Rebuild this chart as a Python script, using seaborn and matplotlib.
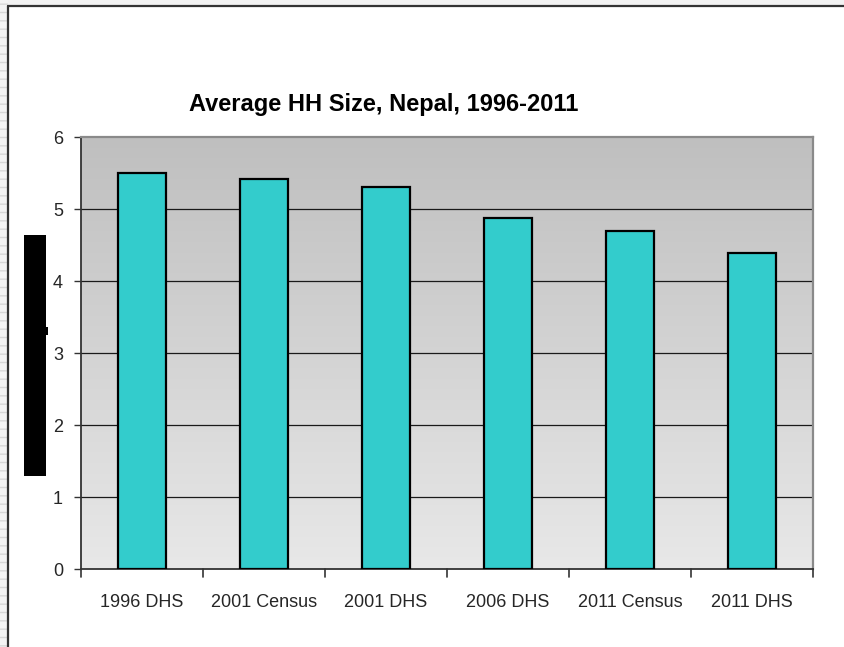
import matplotlib
matplotlib.use("Agg")
import matplotlib.pyplot as plt
from matplotlib.patches import Rectangle
from matplotlib.lines import Line2D
import numpy as np
import pandas as pd
import seaborn as sns

surveys = ["1996 DHS", "2001 Census", "2001 DHS", "2006 DHS", "2011 Census", "2011 DHS"]
hh_size = [5.5, 5.42, 5.3, 4.88, 4.69, 4.39]
y_ticks = [0, 1, 2, 3, 4, 5, 6]
title = "Average HH Size, Nepal, 1996-2011"

df = pd.DataFrame({"survey": surveys, "size": hh_size})

sns.set_theme(style="white")
plt.rcParams["font.family"] = ["Liberation Sans Narrow", "Liberation Sans", "DejaVu Sans"]

fig = plt.figure(figsize=(8.44, 6.47), dpi=100)
W, H = 844, 647

def fx(px):
    return px / W

def fy(py):
    return 1 - py / H

# page margin strips
fig.patches.append(Rectangle((0, fy(6)), 1, 6 / H, transform=fig.transFigure,
                             facecolor="#f2f2f2", edgecolor="none", zorder=0))
fig.patches.append(Rectangle((0, 0), fx(8), 1, transform=fig.transFigure,
                             facecolor="#f4f4f4", edgecolor="#d8d8d8", hatch="--",
                             linewidth=0, zorder=0))
fig.lines.append(Line2D([fx(8), fx(8)], [0, fy(6)], transform=fig.transFigure,
                        color="#333333", linewidth=1.6))
fig.lines.append(Line2D([fx(8), 1], [fy(6), fy(6)], transform=fig.transFigure,
                        color="#333333", linewidth=1.6))

ax = fig.add_axes([fx(81), fy(569), fx(813) - fx(81), (569 - 137) / H])

# gradient plot-area fill
grad = np.linspace(0, 1, 256).reshape(-1, 1)
ax.imshow(grad, cmap=matplotlib.colors.LinearSegmentedColormap.from_list(
    "bg", ["#e8e8e8", "#bfbfbf"]), origin="lower", aspect="auto",
    extent=[0, 1, 0, 1], transform=ax.transAxes, zorder=0)

sns.barplot(data=df, x="survey", y="size", ax=ax, color="#33CCCC",
            edgecolor="black", linewidth=1.6, width=0.4, saturation=1, zorder=3)

ax.set_ylim(0, 6)
ax.set_xlim(-0.5, len(surveys) - 0.5)
ax.set_yticks(y_ticks)
ax.set_yticklabels([str(t) for t in y_ticks], fontsize=13)
for t in y_ticks[1:-1]:
    ax.axhline(t, color="#1a1a1a", linewidth=0.9, zorder=1)

ax.set_xticks(range(len(surveys)))
ax.set_xticklabels(surveys, fontsize=13)
ax.tick_params(axis="x", length=0, pad=18)
ax.tick_params(axis="y", length=5, width=1, color="#333333", left=True, pad=8)
# category separators below the axis
for b in np.arange(-0.5, len(surveys), 1.0):
    ax.plot([b, b], [0, -0.11], color="#333333", linewidth=1.2, clip_on=False, zorder=5)

ax.set_xlabel("")
ax.set_ylabel("")
for side in ["top", "right"]:
    ax.spines[side].set_color("#8a8a8a")
    ax.spines[side].set_linewidth(1.6)
for side in ["left", "bottom"]:
    ax.spines[side].set_color("#333333")
    ax.spines[side].set_linewidth(1.3)

fig.text(fx(384), fy(104), title, ha="center", va="center",
         fontsize=17, fontweight="bold", color="black")

# black block on the y-axis title area
fig.patches.append(Rectangle((fx(24), fy(476)), fx(22), (476 - 235) / H,
                             transform=fig.transFigure, facecolor="black",
                             edgecolor="none", zorder=5))
fig.patches.append(Rectangle((fx(45), fy(335)), fx(2.5), 8 / H,
                             transform=fig.transFigure, facecolor="black",
                             edgecolor="none", zorder=5))

fig.savefig("out.png", dpi=100)
